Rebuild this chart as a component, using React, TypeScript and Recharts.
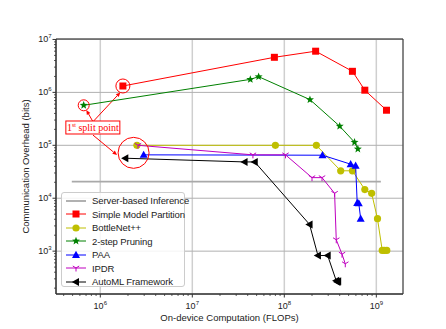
import React from "react";
import {
  ComposedChart,
  Scatter,
  XAxis,
  YAxis,
  CartesianGrid,
  ReferenceArea,
  ReferenceLine,
  ReferenceDot,
  Label,
} from "recharts";

const xTicks = [1e6, 1e7, 1e8, 1e9];
const xTickExp = ["6", "7", "8", "9"];
const yTicks = [1e3, 1e4, 1e5, 1e6, 1e7];
const yTickExp = ["3", "4", "5", "6", "7"];
const xDomain = [3.3e5, 1.95e9];
const yDomain = [155, 1.02e7];

const serverX = [4.9e5, 1.12e9];
const serverY = [2.06e4, 2.06e4];

const smpX = [1.76e6, 7.8e7, 2.19e8, 5.5e8, 7.5e8, 1.29e9];
const smpY = [1.32e6, 4.6e6, 6.0e6, 2.5e6, 1.1e6, 4.6e5];

const bottleX = [2.5e6, 8.0e7, 2.23e8, 4.1e8, 5.5e8, 7.5e8, 8.9e8, 1.03e9, 1.16e9, 1.22e9, 1.3e9];
const bottleY = [1e5, 1e5, 1e5, 3.3e4, 3.3e4, 1.46e4, 1.24e4, 4.1e3, 1.03e3, 1.03e3, 1.03e3];

const pruneX = [6.6e5, 4.27e7, 5.26e7, 1.9e8, 4.0e8, 5.8e8, 6.3e8];
const pruneY = [5.7e5, 1.76e6, 1.98e6, 7.3e5, 2.3e5, 1.14e5, 8.5e4];

const paaX = [2.96e6, 2.6e8, 5.26e8, 5.96e8, 6.2e8, 6.45e8, 6.76e8];
const paaY = [6.6e4, 6.5e4, 4.4e4, 4.1e4, 8.1e3, 8.0e3, 4.1e3];

const ipdrX = [2.57e6, 4.56e7, 1.03e8, 2.0e8, 2.57e8, 3.52e8, 3.67e8, 4.24e8, 4.6e8];
const ipdrY = [1e5, 6.6e4, 6.6e4, 2.45e4, 2.45e4, 1.24e4, 1.64e3, 877, 577];

const automlX = [1.87e6, 3.7e7, 4.77e7, 1.88e8, 2.32e8, 2.96e8, 3.67e8, 3.78e8, 3.85e8];
const automlY = [5.7e4, 4.85e4, 4.85e4, 3.2e3, 828, 828, 275, 260, 270];

// annotation anchors (data coords)
const noteBox = { x: 8.3e5, y: 2.17e5 };
const bigCircle = { x: 2.3e6, y: 7.2e4 };
const arrowStartTop = { x: 8.33e5, y: 2.79e5 };
const arrowStartBottom = { x: 8.33e5, y: 1.56e5 };
const arrowEndGreen = { x: 7.05e5, y: 4.63e5 };
const arrowEndRed = { x: 1.65e6, y: 1.0e6 };
const arrowEndBig = { x: 1.52e6, y: 6.56e4 };

const zip = (xs: number[], ys: number[]) => xs.map((x, i) => ({ x, y: ys[i] }));

const minorTicks = (lo: number, hi: number) => {
  const out: number[] = [];
  for (let e = Math.floor(Math.log10(lo)); e <= Math.ceil(Math.log10(hi)); e++) {
    for (let m = 2; m <= 9; m++) {
      const v = m * Math.pow(10, e);
      if (v > lo && v < hi) out.push(v);
    }
  }
  return out;
};
const xMinor = minorTicks(xDomain[0], xDomain[1]);
const yMinor = minorTicks(yDomain[0], yDomain[1]);

const FONT = "'Liberation Sans', Arial, sans-serif";

const COLORS = {
  server: "#a9a9a9",
  smp: "#ff0000",
  bottle: "#bfbf00",
  prune: "#008000",
  paa: "#0000ff",
  ipdr: "#bf00bf",
  automl: "#000000",
};

type Mk = "square" | "circle" | "star" | "tri" | "tridown" | "left" | "none";

function marker(kind: Mk, cx: number, cy: number, c: string) {
  switch (kind) {
    case "square":
      return <rect x={cx - 3.5} y={cy - 3.5} width={7} height={7} fill={c} />;
    case "circle":
      return <circle cx={cx} cy={cy} r={3.6} fill={c} />;
    case "star": {
      const pts: string[] = [];
      for (let i = 0; i < 10; i++) {
        const r = i % 2 === 0 ? 4.2 : 1.8;
        const a = -Math.PI / 2 + (i * Math.PI) / 5;
        pts.push(`${cx + r * Math.cos(a)},${cy + r * Math.sin(a)}`);
      }
      return <polygon points={pts.join(" ")} fill={c} />;
    }
    case "tri":
      return <polygon points={`${cx},${cy - 4.2} ${cx - 4},${cy + 3} ${cx + 4},${cy + 3}`} fill={c} />;
    case "tridown":
      return (
        <g stroke={c} strokeWidth={1}>
          <line x1={cx} y1={cy} x2={cx} y2={cy + 3.5} />
          <line x1={cx} y1={cy} x2={cx - 3.2} y2={cy - 2} />
          <line x1={cx} y1={cy} x2={cx + 3.2} y2={cy - 2} />
        </g>
      );
    case "left":
      return <polygon points={`${cx - 4.2},${cy} ${cx + 3},${cy - 4} ${cx + 3},${cy + 4}`} fill={c} />;
    default:
      return <g />;
  }
}

const series: { name: string; xs: number[]; ys: number[]; color: string; mk: Mk; w: number }[] = [
  { name: "Server-based Inference", xs: serverX, ys: serverY, color: COLORS.server, mk: "none", w: 1.8 },
  { name: "Simple Model Partition", xs: smpX, ys: smpY, color: COLORS.smp, mk: "square", w: 1 },
  { name: "BottleNet++", xs: bottleX, ys: bottleY, color: COLORS.bottle, mk: "circle", w: 1 },
  { name: "2-step Pruning", xs: pruneX, ys: pruneY, color: COLORS.prune, mk: "star", w: 1 },
  { name: "PAA", xs: paaX, ys: paaY, color: COLORS.paa, mk: "tri", w: 1 },
  { name: "IPDR", xs: ipdrX, ys: ipdrY, color: COLORS.ipdr, mk: "tridown", w: 1 },
  { name: "AutoML Framework", xs: automlX, ys: automlY, color: COLORS.automl, mk: "left", w: 1 },
];

const XTick = (p: any) => (
  <text x={p.x} y={p.y + 9} textAnchor="middle" fontFamily={FONT} fontSize={9} fill="#222">
    <tspan>10</tspan>
    <tspan dy={-4} fontSize={6}>{xTickExp[p.index]}</tspan>
  </text>
);

const YTick = (p: any) => (
  <text x={p.x + 1} y={p.y + 3} textAnchor="end" fontFamily={FONT} fontSize={9} fill="#222">
    <tspan>10</tspan>
    <tspan dy={-4} fontSize={6}>{yTickExp[p.index]}</tspan>
  </text>
);

// short outward tick at the bottom edge for a vertical reference line
const XMinorTick = (p: any) => {
  const yb = Math.max(p.y1, p.y2);
  return <line x1={p.x1} y1={yb} x2={p.x1} y2={yb + 2} stroke="#333" strokeWidth={0.8} />;
};

// short outward tick at the left edge for a horizontal reference line
const YMinorTick = (p: any) => {
  const xl = Math.min(p.x1, p.x2);
  return <line x1={xl - 2} y1={p.y1} x2={xl} y2={p.y1} stroke="#333" strokeWidth={0.8} />;
};

const Arrow = (p: any) => {
  const { x1, y1, x2, y2 } = p;
  const a = Math.atan2(y2 - y1, x2 - x1);
  const L = 4.5;
  const W = 2;
  const bx = x2 - L * Math.cos(a);
  const by = y2 - L * Math.sin(a);
  const nx = -Math.sin(a) * W;
  const ny = Math.cos(a) * W;
  return (
    <g>
      <line x1={x1} y1={y1} x2={bx} y2={by} stroke="#ff0000" strokeWidth={1} />
      <polygon points={`${x2},${y2} ${bx + nx},${by + ny} ${bx - nx},${by - ny}`} fill="#ff0000" />
    </g>
  );
};

const NoteBox = (p: any) => (
  <g>
    <rect x={p.cx - 27} y={p.cy - 6.5} width={54} height={13} fill="#fff" stroke="#ff0000" strokeWidth={1} />
    <text x={p.cx} y={p.cy + 3.5} textAnchor="middle" fontFamily="'Liberation Serif', 'Times New Roman', serif" fontSize={10} fill="#ff0000">
      <tspan>1</tspan>
      <tspan dy={-3.5} fontSize={6}>st</tspan>
      <tspan dy={3.5}> split point</tspan>
    </text>
  </g>
);

export default function App() {
  return (
    <div style={{ position: "absolute", left: 0, top: 0, width: 446, height: 329, background: "#fff" }}>
      <ComposedChart width={446} height={329} margin={{ top: 39, right: 43, bottom: 0, left: 0 }}>
        <XAxis
          dataKey="x"
          type="number"
          scale="log"
          domain={xDomain}
          allowDataOverflow
          ticks={xTicks}
          tick={<XTick />}
          tickSize={3.5}
          height={35}
          stroke="#333"
        >
          <Label
            value="On-device Computation (FLOPs)"
            position="insideBottom"
            offset={8}
            style={{ fontFamily: FONT, fontSize: 9.5, fill: "#222" }}
          />
        </XAxis>
        <YAxis
          dataKey="y"
          type="number"
          scale="log"
          domain={yDomain}
          allowDataOverflow
          ticks={yTicks}
          tick={<YTick />}
          tickSize={3.5}
          width={56}
          stroke="#333"
        >
          <Label
            value="Communication Overhead (bits)"
            angle={-90}
            position="center"
            dx={-2}
            style={{ fontFamily: FONT, fontSize: 9.5, fill: "#222", textAnchor: "middle" }}
          />
        </YAxis>
        <CartesianGrid horizontal={false} stroke="#cfcfcf" strokeWidth={1.5} />
        <CartesianGrid vertical={false} stroke="#b0b0b0" strokeWidth={1} />
        {xMinor.map((v) => (
          <ReferenceLine key={`xm${v}`} x={v} shape={<XMinorTick />} ifOverflow="visible" />
        ))}
        {yMinor.map((v) => (
          <ReferenceLine key={`ym${v}`} y={v} shape={<YMinorTick />} ifOverflow="visible" />
        ))}
        {series.map((s) => (
          <Scatter
            key={s.name}
            name={s.name}
            data={zip(s.xs, s.ys)}
            fill={s.color}
            line={{ stroke: s.color, strokeWidth: s.w }}
            lineJointType="linear"
            shape={(p: any) => marker(s.mk, p.cx, p.cy, s.color)}
            isAnimationActive={false}
          />
        ))}
        <ReferenceDot x={smpX[0]} y={smpY[0]} r={7} fill="none" stroke="#ff0000" strokeWidth={1} ifOverflow="visible" />
        <ReferenceDot x={pruneX[0]} y={pruneY[0]} r={5.5} fill="none" stroke="#ff0000" strokeWidth={1} ifOverflow="visible" />
        <ReferenceDot x={bigCircle.x} y={bigCircle.y} r={15.5} fill="none" stroke="#ff0000" strokeWidth={1} ifOverflow="visible" />
        <ReferenceLine segment={[arrowStartTop, arrowEndGreen]} shape={<Arrow />} ifOverflow="visible" />
        <ReferenceLine segment={[arrowStartTop, arrowEndRed]} shape={<Arrow />} ifOverflow="visible" />
        <ReferenceLine segment={[arrowStartBottom, arrowEndBig]} shape={<Arrow />} ifOverflow="visible" />
        <ReferenceDot x={noteBox.x} y={noteBox.y} shape={<NoteBox />} ifOverflow="visible" />
        <ReferenceArea
          x1={xDomain[0]}
          x2={xDomain[1]}
          y1={yDomain[0]}
          y2={yDomain[1]}
          fill="none"
          fillOpacity={0}
          stroke="#333"
          strokeWidth={1}
          ifOverflow="visible"
        />
      </ComposedChart>
      <div
        style={{
          position: "absolute",
          left: 61,
          top: 192,
          width: 124,
          height: 95,
          border: "1px solid #cccccc",
          borderRadius: 3,
          background: "rgba(255,255,255,0.85)",
          paddingTop: 1,
          boxSizing: "border-box",
        }}
      >
        {series.map((s) => (
          <div key={s.name} style={{ display: "flex", alignItems: "center", height: 13.5 }}>
            <svg width={30} height={12} style={{ flex: "none" }}>
              <line x1={4} y1={6} x2={24} y2={6} stroke={s.color} strokeWidth={s.w === 1 ? 1 : 1.8} />
              {marker(s.mk, 14, 6, s.color)}
            </svg>
            <span style={{ fontFamily: FONT, fontSize: 9.5, color: "#222", whiteSpace: "nowrap", letterSpacing: -0.1 }}>
              {s.name}
            </span>
          </div>
        ))}
      </div>
    </div>
  );
}
